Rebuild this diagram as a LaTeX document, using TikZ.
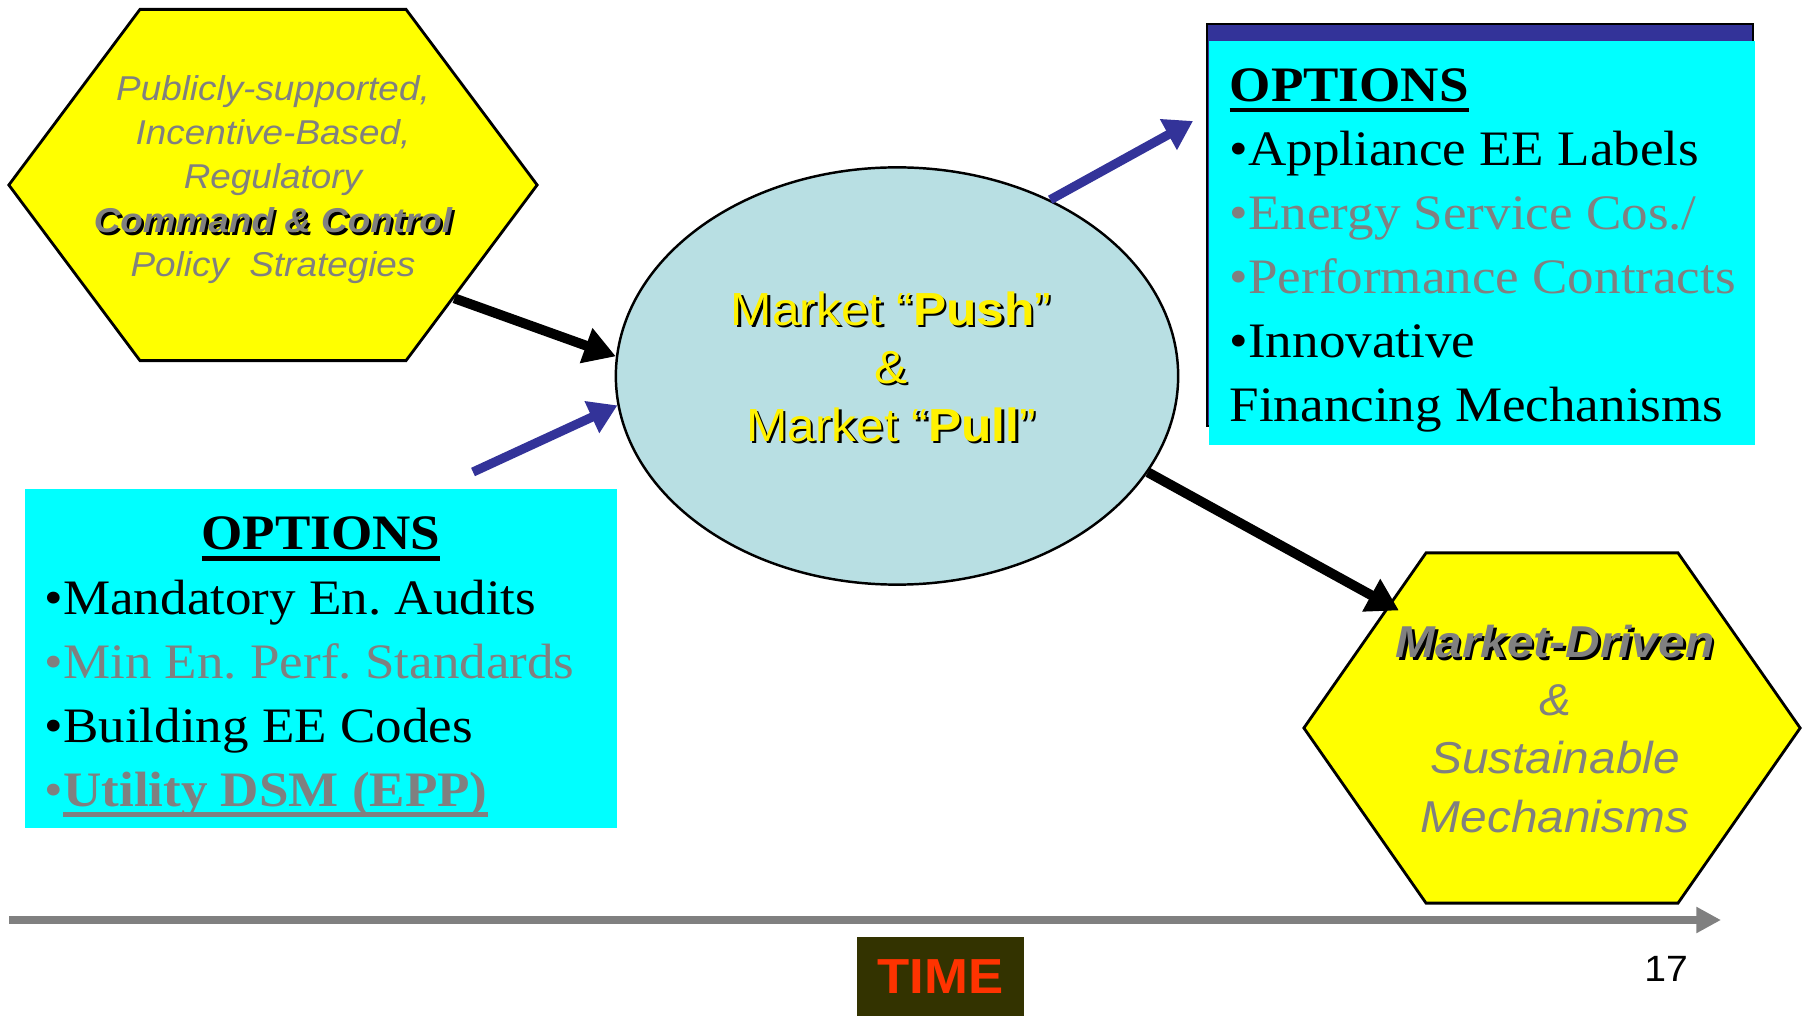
\documentclass[tikz,border=0pt]{standalone}
\usepackage{fontspec}
\setmainfont{Liberation Serif}[FakeStretch=1.07]
\setsansfont{Liberation Sans}[FakeStretch=1.07]
\usepackage{tikz}
\usetikzlibrary{arrows.meta}
\usetikzlibrary{calc, shapes, positioning}
\definecolor{slide yellow}{HTML}{FFFF00}
\definecolor{slide cyan}{HTML}{00FFFF}
\definecolor{arrow blue}{HTML}{333399}
\definecolor{text gray}{HTML}{808080}
\definecolor{bubble blue}{HTML}{B8DFE3}
\definecolor{time olive}{HTML}{333300}
\definecolor{time red}{HTML}{FF3300}
\newcommand{\shadowed}[2]{\makebox[0pt][l]{\kern0.7pt\raisebox{-0.7pt}{\textcolor{black}{#2}}}\textcolor{#1}{#2}}
\newcommand{\thickul}[1]{\setbox0\hbox{#1}\rlap{\rule[-3pt]{\wd0}{1.2pt}}\box0}
\frenchspacing

\begin{document}
\begin{tikzpicture}[x=0.01cm, y=-0.01cm,
    hexagon/.style={signal, signal to=east and west, signal from=nowhere, draw, fill=slide yellow, line width=0.8pt, inner sep=0pt},
    hextext/.style={align=center, text=text gray, font=\sffamily\itshape\fontsize{9.8pt}{12.5pt}\selectfont},
    optbox/.style={fill=slide cyan, inner sep=0pt},
    opttext/.style={align=left, inner sep=0pt, font=\fontsize{14.1pt}{18.2pt}\selectfont},
    black arrow/.style={line width=2.8pt, -{Triangle[length=9pt, width=10pt]}},
    blue arrow/.style={arrow blue, line width=2.6pt, -{Triangle[length=8pt, width=9.5pt]}}]
    \useasboundingbox (0,0) rectangle (1810,1016);
    % policy hexagon
    \node[hexagon, minimum width=5.28cm, minimum height=3.51cm, signal pointer angle=106.5] (hexL) at (273,185) {};
    \node[hextext] (hexLtxt) at (273,180) {Publicly-supported,\\Incentive-Based,\\Regulatory\\\shadowed{text gray}{\textbf{Command \& Control}}\\Policy\ \ Strategies};
    % market bubble
    \node[ellipse, draw, fill=bubble blue, line width=0.7pt, minimum width=5.62cm, minimum height=4.17cm, inner sep=0pt] (push) at (897,376) {};
    \node[align=center, font=\sffamily\fontsize{13.2pt}{16.5pt}\selectfont] (pushtxt) at (891,368) {\shadowed{yellow}{Market “\textbf{Push}”}\\\shadowed{yellow}{\&}\\\shadowed{yellow}{Market “\textbf{Pull}”}};
    % options, top right
    \node[draw=black, fill=arrow blue, line width=0.6pt, minimum width=5.46cm, minimum height=4.02cm, inner sep=0pt] (optRframe) at (1480,225) {};
    \node[optbox, minimum width=5.46cm, minimum height=4.04cm] (optR) at (1482,243) {};
    \node[opttext, anchor=north west] (optRtxt) at (1229,68) {\thickul{\textbf{OPTIONS}}\\\textbullet Appliance EE Labels\\\textcolor{text gray}{\textbullet Energy Service Cos./}\\\textcolor{text gray}{\textbullet Performance Contracts}\\\textbullet Innovative\\Financing Mechanisms};
    % options, bottom left
    \node[optbox, minimum width=5.92cm, minimum height=3.39cm] (optL) at (321,658.5) {};
    \node[opttext, anchor=base] (optLhead) at (321,550) {\thickul{\textbf{OPTIONS}}};
    \node[opttext, anchor=north west] (optLtxt) at (44,579) {\textbullet Mandatory En. Audits\\\textcolor{text gray}{\textbullet Min En. Perf. Standards}\\\textbullet Building EE Codes\\\textcolor{text gray}{\textbullet\thickul{\textbf{Utility DSM (EPP)}}}};
    % sustainable hexagon
    \node[hexagon, minimum width=4.96cm, minimum height=3.50cm, signal pointer angle=110.2] (hexR) at (1552,728) {};
    \node[hextext, font=\sffamily\itshape\fontsize{12.7pt}{16.5pt}\selectfont] (hexRtxt) at (1555,729) {\shadowed{text gray}{\textbf{Market-Driven}}\\\&\\Sustainable\\Mechanisms};
    % arrows
    \coordinate (blueL) at (473,472);
    \coordinate (blueR) at (1193,121);
    \draw[black arrow] (hexL.-32) -- (push.176);
    \draw[blue arrow] (blueL) -- (push.186.5);
    \draw[blue arrow] (push.49.6) -- (blueR);
    \draw[black arrow, shorten >=-3.5pt] (push.-21.5) -- (hexR.143.9);
    % time axis
    \coordinate (tstart) at (9,920);
    \coordinate (tend) at (1721,920);
    \draw[text gray, line width=2.3pt, -{Triangle[length=7pt, width=7pt]}] (tstart) -- (tend);
    \node[fill=time olive, minimum width=1.67cm, minimum height=0.79cm, inner sep=0pt, text=time red, font=\sffamily\bfseries\fontsize{14pt}{14pt}\selectfont] (time) at (940.5,976.5) {TIME};
    \node[font=\sffamily\fontsize{10.4pt}{12pt}\selectfont] (pagenum) at (1666,969) {17};
\end{tikzpicture}
\end{document}
